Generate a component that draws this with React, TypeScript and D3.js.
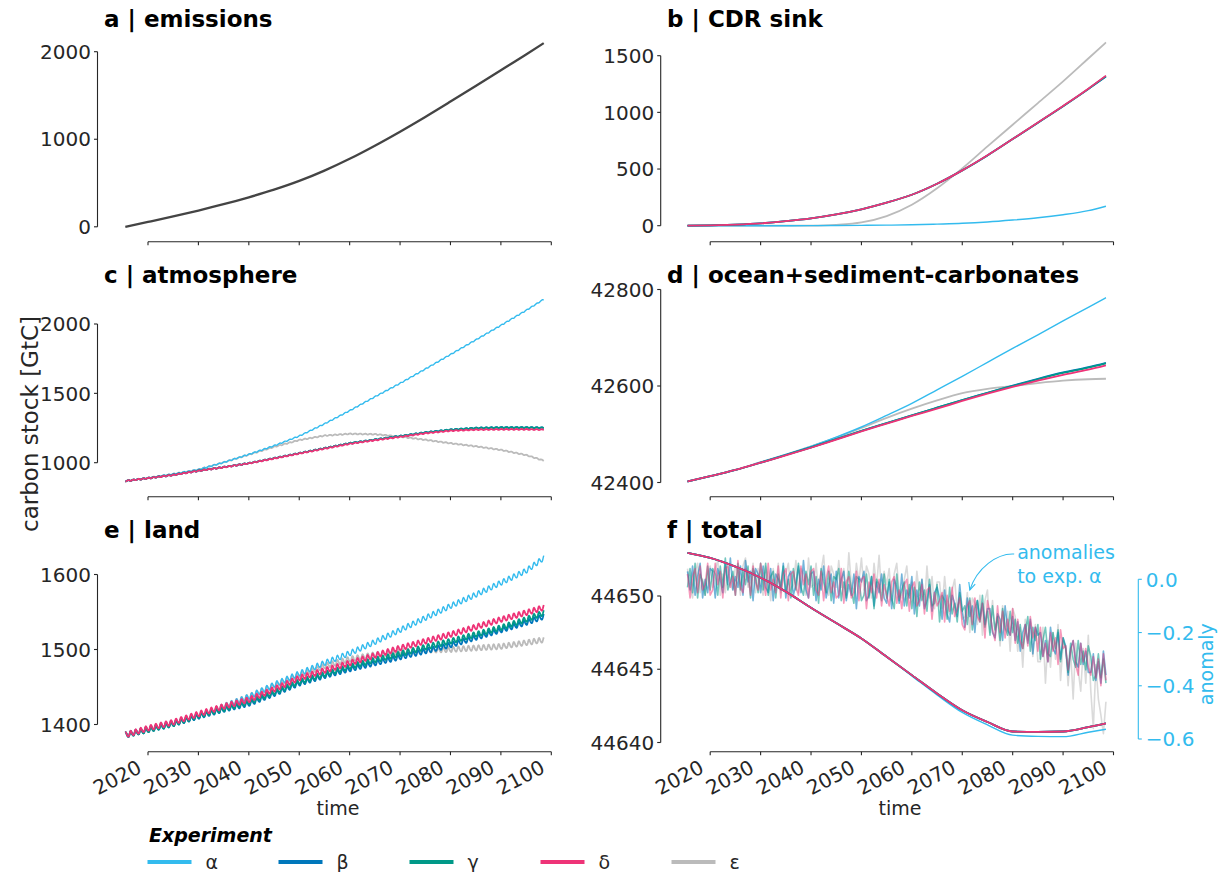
import React from "react";
import * as d3 from "d3";

// ---------------------------------------------------------------------------
// Time axis shared by all panels (annual-mean nodes, years)
// ---------------------------------------------------------------------------
const years = [2015.5, 2020, 2025, 2030, 2035, 2040, 2045, 2050, 2055, 2060, 2065, 2070, 2075, 2080, 2085, 2090, 2095, 2098.5];
const decadeTicks = [2020, 2030, 2040, 2050, 2060, 2070, 2080, 2090, 2100];

const experiments = ["α", "β", "γ", "δ", "ε"];
const experimentColors = ["#33BBEE", "#0077BB", "#009988", "#EE3377", "#BBBBBB"];

// a | emissions [GtC, cumulative]
const emissions = [0, 55, 118, 186, 258, 337, 424, 524, 642, 777, 927, 1087, 1255, 1430, 1608, 1788, 1968, 2098];

// b | CDR sink [GtC]
const cdrAlpha = [0, 0, 0, 0, 0, 0.5, 1.5, 3, 5, 8, 14, 21, 33, 50, 70, 97, 133, 172];
const cdrBeta = [0, 3, 10, 21, 40, 65, 100, 145, 203, 273, 370, 488, 620, 764, 908, 1054, 1205, 1315];
const cdrGamma = [0, 3, 10, 21, 40, 65, 100, 145, 203, 273, 370, 488, 620, 764, 909, 1055, 1207, 1318];
const cdrDelta = [0, 3, 10, 21, 40, 65, 100, 145, 203, 273, 370, 488, 621, 765, 911, 1057, 1209, 1324];
const cdrEpsilon = [0, 0, 0, 0, 0, 1, 8, 29, 85, 185, 330, 506, 700, 891, 1082, 1273, 1475, 1617];

// c | atmosphere [GtC, annual means]
const atmAlpha = [868, 890, 918, 950, 1002, 1060, 1122, 1192, 1280, 1375, 1475, 1572, 1675, 1780, 1885, 1990, 2098, 2178];
const atmBeta = [868, 888, 912, 942, 968, 996, 1032, 1068, 1104, 1140, 1166, 1192, 1218, 1238, 1250, 1254, 1254, 1252];
const atmGamma = [868, 888, 912, 942, 968, 996, 1032, 1068, 1104, 1140, 1166, 1191, 1217, 1237, 1249, 1253, 1253, 1251];
const atmDelta = [868, 888, 911, 941, 967, 995, 1030, 1066, 1101, 1136, 1162, 1186, 1212, 1230, 1238, 1240, 1240, 1238];
const atmEpsilon = [868, 890, 918, 950, 1002, 1058, 1114, 1163, 1195, 1208, 1205, 1188, 1165, 1140, 1118, 1092, 1055, 1015];

// d | ocean + sediment - carbonates [GtC]
const oceanAlpha = [42402, 42413, 42426, 42442, 42458, 42475, 42494, 42515, 42539, 42564, 42592, 42620, 42649, 42678, 42706, 42735, 42763, 42783];
const oceanBeta = [42402, 42413, 42426, 42441, 42457, 42473, 42490, 42507, 42523, 42539, 42555, 42571, 42586, 42601, 42615, 42628, 42639, 42648];
const oceanGamma = [42402, 42413, 42426, 42441, 42457, 42473, 42490, 42507, 42523, 42539, 42555, 42571, 42586, 42600, 42614, 42627, 42638, 42647];
const oceanDelta = [42402, 42413, 42426, 42441, 42456, 42472, 42489, 42506, 42522, 42538, 42553, 42569, 42584, 42598, 42611, 42623, 42634, 42643];
const oceanEpsilon = [42402, 42413, 42426, 42442, 42458, 42475, 42493, 42513, 42534, 42553, 42570, 42585, 42594, 42600, 42606, 42611, 42614, 42615];

// e | land [GtC, annual means]
const landAlpha = [1386, 1394, 1402, 1411, 1424, 1437, 1453, 1468, 1482, 1495, 1510, 1526, 1542, 1558, 1573, 1589, 1605, 1622];
const landBeta = [1386, 1393, 1401, 1411, 1420, 1428, 1441, 1455, 1465, 1474, 1482, 1490, 1498, 1506, 1516, 1526, 1536, 1544];
const landGamma = [1386, 1393, 1401, 1412, 1421, 1430, 1443, 1457, 1467, 1477, 1486, 1494, 1503, 1511, 1520, 1529, 1540, 1549];
const landDelta = [1386, 1395, 1403, 1414, 1424, 1433, 1447, 1462, 1472, 1482, 1492, 1502, 1511, 1520, 1530, 1540, 1549, 1556];
const landEpsilon = [1386, 1394, 1402, 1411, 1424, 1437, 1452, 1466, 1478, 1487, 1493, 1497, 1499, 1500, 1502, 1504, 1509, 1513];

// Mean seasonal cycle (Jan..Dec) [GtC]
const landSeasonalCycle = [-2.6, -3.3, -3.4, -2.4, -0.6, 1.6, 3.2, 3.5, 2.7, 1.2, -0.4, -1.7];
const atmSeasonalCycle = [2.4, 3.0, 3.2, 2.3, 0.6, -1.5, -3.0, -3.3, -2.5, -1.1, 0.4, 1.5];

// f | total [GtC]
const totalAlpha = [44652.95, 44652.6, 44652.0, 44651.25, 44650.3, 44649.2, 44648.15, 44647.1, 44645.85, 44644.55, 44643.25, 44642.05, 44641.2, 44640.5, 44640.42, 44640.4, 44640.7, 44640.9];
const totalBeta = [44652.95, 44652.6, 44652.0, 44651.25, 44650.3, 44649.2, 44648.15, 44647.1, 44645.85, 44644.6, 44643.35, 44642.2, 44641.4, 44640.75, 44640.72, 44640.75, 44641.05, 44641.3];
const totalGamma = [44652.95, 44652.6, 44652.0, 44651.25, 44650.3, 44649.2, 44648.15, 44647.1, 44645.85, 44644.6, 44643.35, 44642.2, 44641.4, 44640.75, 44640.72, 44640.75, 44641.05, 44641.3];
const totalDelta = [44652.95, 44652.6, 44652.0, 44651.25, 44650.3, 44649.2, 44648.15, 44647.1, 44645.85, 44644.6, 44643.35, 44642.2, 44641.4, 44640.75, 44640.72, 44640.75, 44641.05, 44641.3];
const totalEpsilon = [44652.95, 44652.6, 44652.0, 44651.25, 44650.3, 44649.2, 44648.15, 44647.1, 44645.85, 44644.6, 44643.35, 44642.2, 44641.4, 44640.75, 44640.72, 44640.75, 44641.05, 44641.3];

// f | half-yearly anomalies of total carbon relative to experiment α [0.01 GtC], 2015.5 .. 2098.5
const anomalyBeta = [
  3, -4, 5, -6, 1, 6, -7, 0, -5, 4, 3, -7, 4, 0, -5, 6, -2, 8, -4, 1,
  -3, 5, -6, 7, -1, 3, -8, 4, 2, -5, 5, -3, -5, 4, -8, 2, 0, -4, 6, -7,
  1, 3, -6, -2, 5, -5, 7, -4, -7, 2, 3, -8, 0, -4, 5, -7, -2, 2, -9, 3,
  -7, 0, 3, -8, -2, -6, 2, -11, 1, -1, 3, -8, -6, 1, -10, -1, -5, 2, -7, -9,
  -1, -11, 0, -3, -9, 2, -10, -4, -7, 1, -13, -4, -10, 0, -11, -8, -2, -12, -5, -3,
  -7, -15, -4, -13, -16, -6, -9, -14, -2, -12, -18, -7, -14, -10, -20, -8, -15, -9, -17, -11,
  -11, -20, -22, -13, -15, -23, -10, -19, -21, -14, -23, -16, -27, -20, -17, -24, -15, -28, -18, -21,
  -20, -29, -23, -31, -18, -26, -28, -20, -30, -22, -25, -36, -26, -23, -31, -33, -24, -32, -27, -35,
  -35, -28, -38, -31, -39, -27, -36,
];
const anomalyGamma = [
  -3, 4, -5, 6, -7, 2, -1, -6, 5, -4, 4, 2, -6, 5, -3, 8, -4, -1, 3, -6,
  6, -4, 3, -2, 5, -7, 4, 1, -5, 6, -4, 6, -6, 1, 3, -7, 2, -3, 5, -5,
  0, -7, 4, -4, 6, -3, -6, 3, -2, 5, -6, 1, -9, 4, -1, -5, 3, -8, 1, 0,
  4, -8, -1, -7, 3, -4, -9, 1, 0, -8, -6, 2, -7, 1, -11, 0, -2, -8, 2, -7,
  0, -7, -11, 2, -8, -4, -1, -10, -2, -11, -3, -14, -1, -8, -4, -12, 0, -10, -9, -2,
  -16, -6, -8, -15, -3, -13, -9, -16, -5, -12, -10, -17, -7, -19, -11, -8, -16, -6, -18, -12,
  -21, -10, -19, -14, -23, -11, -18, -21, -12, -20, -15, -24, -17, -26, -20, -14, -27, -18, -23, -17,
  -30, -23, -18, -28, -29, -20, -26, -19, -31, -22, -26, -35, -24, -30, -33, -23, -32, -27, -34, -25,
  -29, -38, -36, -28, -37, -30, -39,
];
const anomalyDelta = [
  2, -7, 1, 4, -5, 5, -4, -2, 6, -6, -4, 6, -2, 3, -7, 4, 5, -3, 1, -6,
  7, -3, -5, 4, 2, -6, 5, -1, -4, 6, 1, -6, 6, -4, 0, -5, 5, -7, 2, 4,
  -8, 2, 3, -3, -6, 5, -2, 2, -7, 3, 4, -4, -6, 3, -8, 0, 5, -5, -1, -7,
  -6, 4, -9, -1, 1, -7, -5, 3, -8, 0, 1, -11, -1, -5, 2, -7, 0, -10, -2, -6,
  -10, -1, 1, -9, -4, -11, -2, 0, -12, -3, -1, -10, -8, -2, -13, -4, -3, -15, -5, -10,
  -8, -5, -16, -6, -12, -3, -14, -11, -7, -17, -19, -10, -8, -17, -7, -14, -16, -9, -22, -8,
  -13, -19, -23, -10, -20, -12, -22, -15, -21, -11, -24, -15, -23, -26, -17, -25, -14, -22, -18, -27,
  -18, -29, -24, -31, -20, -27, -22, -32, -19, -26, -25, -34, -27, -23, -32, -36, -24, -31, -26, -33,
  -36, -29, -37, -30, -40, -28, -38,
];
const anomalyEpsilon = [
  4, -3, -7, 3, 6, -5, 0, -6, 2, 5, -3, 4, 7, -6, 2, -5, 6, -2, -4, 5,
  3, -6, 5, 8, -3, -1, 6, -5, 4, -2, -6, 5, 1, -8, 4, -4, 6, -5, 0, 2,
  6, -4, -2, 7, -5, 4, 2, -6, 8, -3, -2, 6, -5, 3, 9, -4, -6, 5, 2, -3,
  7, -3, 4, -6, 10, -2, -5, 6, -1, 8, -4, 5, 2, -7, 6, -3, 9, -5, 3, -2,
  4, -8, 2, 6, -5, -7, 0, 5, -6, -1, -9, 3, -6, 0, -10, 5, -7, 1, -11, -1,
  -1, -11, 1, -9, -13, -4, 0, -12, -6, -15, -14, -5, -20, -7, -9, -17, -6, -21, -8, -4,
  -20, -8, -21, -14, -25, -10, -19, -12, -27, -11, -14, -27, -18, -33, -15, -23, -16, -29, -17, -31,
  -31, -18, -39, -23, -33, -20, -30, -17, -38, -24, -25, -40, -27, -45, -24, -34, -42, -26, -39, -21,
  -42, -56, -32, -45, -51, -58, -46,
];

// ---------------------------------------------------------------------------
// Layout
// ---------------------------------------------------------------------------
const FONT = "'DejaVu Sans', 'Liberation Sans', sans-serif";
const INK = "#262626";
const TICK_FONT = 20;
const TITLE_FONT = 23;
const LABEL_FONT = 19;

const cols = [
  { x: d3.scaleLinear().domain([2020, 2100]).range([148, 551.3]), spineX: 97.5, titleX: 104, labelX: 338 },
  { x: d3.scaleLinear().domain([2020, 2100]).range([710.2, 1113.5]), spineX: 660.7, titleX: 667, labelX: 900 },
];
const rows = [
  { axisY: 241.7, titleY: 27 },
  { axisY: 496.7, titleY: 283 },
  { axisY: 751.7, titleY: 538 },
];

type Pt = [number, number];
type Series = { color: string; width: number; opacity?: number; points: Pt[]; smooth: boolean };

const nodes = (values: number[]): Pt[] => years.map((t, i) => [t, values[i]]);

// monthly series: annual-mean trend plus the mean seasonal cycle
function withSeason(values: number[], cycle: number[]): Pt[] {
  const trend = d3.scaleLinear().domain(years).range(values);
  const months = d3.range(0, 83 * 12 + 1);
  return months.map((m) => {
    const t = years[0] + m / 12;
    return [t, trend(t) + cycle[(m + 6) % 12]] as Pt;
  });
}

const halfYears = d3.range(anomalyBeta.length).map((i) => years[0] + i / 2);
const anomalyPts = (vals: number[]): Pt[] => vals.map((v, i) => [halfYears[i], v / 100]);

// draw order: ε underneath, then α, β, γ, δ
const order = [4, 0, 1, 2, 3];
function stack(sets: number[][], kind: "smooth" | "season", cycle?: number[]): Series[] {
  return order.map((k) => ({
    color: experimentColors[k],
    width: k === 0 ? 1.4 : 1.8,
    points: kind === "smooth" ? nodes(sets[k]) : withSeason(sets[k], cycle as number[]),
    smooth: kind === "smooth",
  }));
}

type PanelDef = {
  title: string;
  col: number;
  row: number;
  yDomain: [number, number];
  yRange: [number, number];
  yTicks: number[];
  series: Series[];
  bottom: boolean;
};

const panels: PanelDef[] = [
  {
    title: "a | emissions", col: 0, row: 0,
    yDomain: [0, 2000], yRange: [226.8, 51.7], yTicks: [0, 1000, 2000], bottom: false,
    series: [{ color: "#444444", width: 2.3, points: nodes(emissions), smooth: true }],
  },
  {
    title: "b | CDR sink", col: 1, row: 0,
    yDomain: [0, 1500], yRange: [225.7, 55.7], yTicks: [0, 500, 1000, 1500], bottom: false,
    series: stack([cdrAlpha, cdrBeta, cdrGamma, cdrDelta, cdrEpsilon], "smooth"),
  },
  {
    title: "c | atmosphere", col: 0, row: 1,
    yDomain: [1000, 2000], yRange: [462.7, 324], yTicks: [1000, 1500, 2000], bottom: false,
    series: stack([atmAlpha, atmBeta, atmGamma, atmDelta, atmEpsilon], "season", atmSeasonalCycle),
  },
  {
    title: "d | ocean+sediment-carbonates", col: 1, row: 1,
    yDomain: [42400, 42800], yRange: [482.5, 289.5], yTicks: [42400, 42600, 42800], bottom: false,
    series: stack([oceanAlpha, oceanBeta, oceanGamma, oceanDelta, oceanEpsilon], "smooth"),
  },
  {
    title: "e | land", col: 0, row: 2,
    yDomain: [1400, 1600], yRange: [724.5, 574.5], yTicks: [1400, 1500, 1600], bottom: true,
    series: stack([landAlpha, landBeta, landGamma, landDelta, landEpsilon], "season", landSeasonalCycle),
  },
  {
    title: "f | total", col: 1, row: 2,
    yDomain: [44640, 44650], yRange: [742.5, 596], yTicks: [44640, 44645, 44650], bottom: true,
    series: stack([totalAlpha, totalBeta, totalGamma, totalDelta, totalEpsilon], "smooth"),
  },
];

// right-hand anomaly axis of panel f
const anomalyScale = d3.scaleLinear().domain([0, -0.6]).range([579.3, 739]);
const anomalyTicks = [0, -0.2, -0.4, -0.6];
const ANOMALY_COLOR = "#33BBEE";

function Panel({ p, children }: { p: PanelDef; children?: React.ReactNode }) {
  const col = cols[p.col];
  const row = rows[p.row];
  const x = col.x;
  const y = d3.scaleLinear().domain(p.yDomain).range(p.yRange);
  const smoothLine = d3.line<Pt>().x((d) => x(d[0])).y((d) => y(d[1])).curve(d3.curveMonotoneX);
  const rawLine = d3.line<Pt>().x((d) => x(d[0])).y((d) => y(d[1]));
  const yMin = d3.min(p.yTicks) as number;
  const yMax = d3.max(p.yTicks) as number;
  const fmt = d3.format("d");
  return (
    <g>
      <text x={col.titleX} y={row.titleY} fontFamily={FONT} fontWeight="bold" fontSize={TITLE_FONT} fill="#000">
        {p.title}
      </text>
      {/* y axis */}
      <line x1={col.spineX} x2={col.spineX} y1={y(yMin)} y2={y(yMax)} stroke={INK} strokeWidth={1.1} />
      {p.yTicks.map((t) => (
        <g key={t}>
          <line x1={col.spineX - 3.5} x2={col.spineX} y1={y(t)} y2={y(t)} stroke={INK} strokeWidth={1.1} />
          <text x={col.spineX - 6.5} y={y(t)} dy="0.36em" textAnchor="end" fontFamily={FONT} fontSize={TICK_FONT} fill={INK}>
            {fmt(t)}
          </text>
        </g>
      ))}
      {/* x axis */}
      <line x1={x(2020)} x2={x(2100)} y1={row.axisY} y2={row.axisY} stroke={INK} strokeWidth={1.1} />
      {decadeTicks.map((t) => (
        <g key={t}>
          <line x1={x(t)} x2={x(t)} y1={row.axisY} y2={row.axisY + 3.5} stroke={INK} strokeWidth={1.1} />
          {p.bottom && (
            <text
              transform={`translate(${x(t) - 5},${row.axisY + 20}) rotate(-28)`}
              textAnchor="end"
              fontFamily={FONT}
              fontSize={TICK_FONT}
              fill={INK}
            >
              {t}
            </text>
          )}
        </g>
      ))}
      {p.bottom && (
        <text x={col.labelX} y={row.axisY + 63} textAnchor="middle" fontFamily={FONT} fontSize={LABEL_FONT} fill={INK}>
          time
        </text>
      )}
      {children}
      {p.series.map((s, i) => (
        <path
          key={i}
          d={(s.smooth ? smoothLine : rawLine)(s.points) as string}
          fill="none"
          stroke={s.color}
          strokeWidth={s.width}
          strokeOpacity={s.opacity ?? 1}
          strokeLinejoin="round"
        />
      ))}
    </g>
  );
}

function AnomalyLayer() {
  const x = cols[1].x;
  const y = anomalyScale;
  const line = d3.line<Pt>().x((d) => x(d[0])).y((d) => y(d[1]));
  const spineX = 1138.3;
  const fmt = d3.format(".1f");
  const sets = [
    { vals: anomalyEpsilon, color: experimentColors[4], op: 0.55 },
    { vals: anomalyBeta, color: experimentColors[1], op: 0.55 },
    { vals: anomalyGamma, color: experimentColors[2], op: 0.55 },
    { vals: anomalyDelta, color: experimentColors[3], op: 0.5 },
  ];
  // arrow from the note to the anomaly band
  const tipX = x(2071.5);
  const tipY = y(-0.04);
  const startX = x(2080.3);
  const startY = y(0.095);
  const arrowPath = `M${startX},${startY} C${startX - 17},${startY - 1} ${tipX + 7},${tipY - 22} ${tipX},${tipY}`;
  return (
    <g>
      {sets.map((s, i) => (
        <path key={i} d={line(anomalyPts(s.vals)) as string} fill="none" stroke={s.color} strokeOpacity={s.op} strokeWidth={1.6} strokeLinejoin="round" />
      ))}
      <line x1={spineX} x2={spineX} y1={y(0)} y2={y(-0.6)} stroke={ANOMALY_COLOR} strokeWidth={1.1} />
      {anomalyTicks.map((t) => (
        <g key={t}>
          <line x1={spineX} x2={spineX + 3.5} y1={y(t)} y2={y(t)} stroke={ANOMALY_COLOR} strokeWidth={1.1} />
          <text x={spineX + 7.5} y={y(t)} dy="0.36em" fontFamily={FONT} fontSize={TICK_FONT} fill={ANOMALY_COLOR}>
            {fmt(t)}
          </text>
        </g>
      ))}
      <text transform={`translate(1213,${(y(0) + y(-0.6)) / 2 + 5}) rotate(-90)`} textAnchor="middle" fontFamily={FONT} fontSize={LABEL_FONT} fill={ANOMALY_COLOR}>
        anomaly
      </text>
      <path d={arrowPath} fill="none" stroke={ANOMALY_COLOR} strokeWidth={1.1} />
      <path d={`M${tipX + 5.4},${tipY - 5.9} L${tipX},${tipY} L${tipX - 1},${tipY - 7.9}`} fill="none" stroke={ANOMALY_COLOR} strokeWidth={1.1} />
      <text x={startX + 3} y={startY + 5} fontFamily={FONT} fontSize={LABEL_FONT} fill={ANOMALY_COLOR}>
        anomalies
      </text>
      <text x={startX + 3} y={startY + 29} fontFamily={FONT} fontSize={LABEL_FONT} fill={ANOMALY_COLOR}>
        to exp. α
      </text>
    </g>
  );
}

function Legend() {
  const x0 = 147.5;
  const step = 131;
  const y = 862;
  return (
    <g>
      <text x={149} y={842} fontFamily={FONT} fontWeight="bold" fontStyle="italic" fontSize={19} fill="#000">
        Experiment
      </text>
      {experiments.map((e, i) => (
        <g key={e}>
          <line x1={x0 + i * step} x2={x0 + i * step + 44} y1={y} y2={y} stroke={experimentColors[i]} strokeWidth={4} />
          <text x={x0 + i * step + 58} y={y} dy="0.36em" fontFamily={FONT} fontSize={19} fill={INK}>
            {e}
          </text>
        </g>
      ))}
    </g>
  );
}

export default function App() {
  return (
    <svg
      width={1222}
      height={872}
      viewBox="0 0 1222 872"
      style={{ position: "absolute", left: 0, top: 0, background: "#fff" }}
    >
      <rect width={1222} height={872} fill="#fff" />
      <text transform="translate(38,424) rotate(-90)" textAnchor="middle" fontFamily={FONT} fontSize={23} fill={INK}>
        carbon stock [GtC]
      </text>
      {panels.map((p) => (
        <Panel key={p.title} p={p}>
          {p.title.startsWith("f") ? <AnomalyLayer /> : null}
        </Panel>
      ))}
      <Legend />
    </svg>
  );
}
